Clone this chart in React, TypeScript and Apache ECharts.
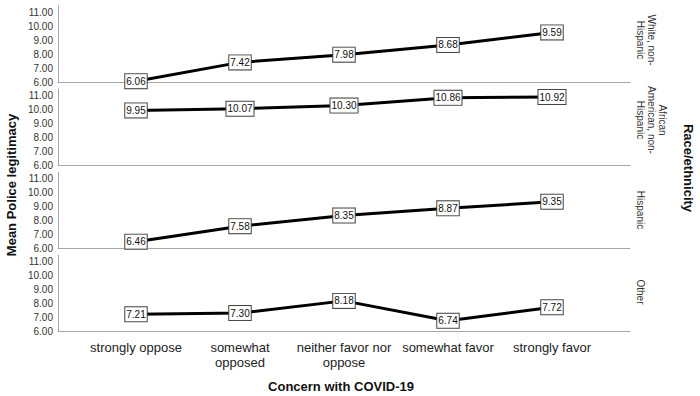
import React, { useEffect, useRef } from "react";
import * as echarts from "echarts";

const categories = [
  "strongly oppose",
  "somewhat\nopposed",
  "neither favor nor\noppose",
  "somewhat favor",
  "strongly favor",
];
const groups = [
  "White, non-\nHispanic",
  "African\nAmerican, non-\nHispanic",
  "Hispanic",
  "Other",
];
const white = [6.06, 7.42, 7.98, 8.68, 9.59];
const african = [9.95, 10.07, 10.3, 10.86, 10.92];
const hispanic = [6.46, 7.58, 8.35, 8.87, 9.35];
const other = [7.21, 7.3, 8.18, 6.74, 7.72];
const seriesValues = [white, african, hispanic, other];
const yTicks = [6, 7, 8, 9, 10, 11];

const FONT = "'Liberation Sans', Arial, sans-serif";

export default function App() {
  const ref = useRef<HTMLDivElement>(null);
  useEffect(() => {
    if (!ref.current) return;
    const chart = echarts.init(ref.current, undefined, { renderer: "svg" });
    const left = 58;
    const width = 572;
    const tops = [6, 89, 172, 255];
    const height = 76;
    const labelY = [40, 120, 210, 292];
    const grids = tops.map((t) => ({ left, top: t, width, height }));
    const xAxes = tops.map((_, i) => ({
      type: "value",
      gridIndex: i,
      min: -0.75,
      max: 4.75,
      interval: 0.25,
      axisLine: { show: true, onZero: false, lineStyle: { color: "#a6a6a6", width: 1 } },
      axisTick: { show: false },
      splitLine: { show: false },
      axisLabel: {
        show: i === 3,
        margin: 9,
        fontFamily: FONT,
        fontSize: 13,
        color: "#222",
        lineHeight: 15,
        showMinLabel: false,
        showMaxLabel: false,
        formatter: (v: number) => {
          const r = Math.round(v);
          if (Math.abs(v - r) > 1e-6 || r < 0 || r >= categories.length) return "";
          return categories[r];
        },
      },
    }));
    const yAxes = tops.map((_, i) => ({
      type: "value",
      gridIndex: i,
      min: 6,
      max: 11.5,
      interval: 1,
      axisLine: { show: true, onZero: false, lineStyle: { color: "#a6a6a6", width: 1 } },
      axisTick: { show: false },
      splitLine: { show: false },
      axisLabel: {
        margin: 5,
        fontFamily: FONT,
        fontSize: 10,
        color: "#333",
        formatter: (v: number) => (yTicks.includes(v) ? v.toFixed(2) : ""),
      },
    }));
    const series = seriesValues.map((vals, i) => ({
      type: "line",
      xAxisIndex: i,
      yAxisIndex: i,
      data: vals.map((v, j) => [j, v]),
      symbol: "circle",
      symbolSize: 2,
      showSymbol: true,
      lineStyle: { color: "#000", width: 3 },
      itemStyle: { color: "#000" },
      label: {
        show: true,
        position: "inside",
        formatter: (p: any) => p.value[1].toFixed(2),
        backgroundColor: "#fff",
        borderColor: "#444",
        borderWidth: 1,
        padding: [2, 1, 2, 1],
        fontFamily: FONT,
        fontSize: 10,
        color: "#111",
      },
    }));
    const graphic: any[] = [
      {
        type: "text",
        x: 11,
        y: 185,
        rotation: Math.PI / 2,
        style: {
          text: "Mean Police legitimacy",
          fontFamily: FONT,
          fontSize: 13,
          fontWeight: "bold",
          fill: "#111",
          align: "center",
          verticalAlign: "middle",
        },
      },
      {
        type: "text",
        x: 341,
        y: 386,
        style: {
          text: "Concern with COVID-19",
          fontFamily: FONT,
          fontSize: 13,
          fontWeight: "bold",
          fill: "#111",
          align: "center",
          verticalAlign: "middle",
        },
      },
      {
        type: "text",
        x: 688,
        y: 168,
        rotation: -Math.PI / 2,
        style: {
          text: "Race/ethnicity",
          fontFamily: FONT,
          fontSize: 13,
          fontWeight: "bold",
          fill: "#111",
          align: "center",
          verticalAlign: "middle",
        },
      },
      ...groups.map((g, i) => ({
        type: "text",
        x: 635,
        y: labelY[i],
        rotation: -Math.PI / 2,
        style: {
          text: g,
          fontFamily: FONT,
          fontSize: 10,
          lineHeight: 11,
          fill: "#333",
          align: "center",
          verticalAlign: "bottom",
        },
      })),
    ];
    chart.setOption({
      animation: false,
      backgroundColor: "#fff",
      grid: grids,
      xAxis: xAxes,
      yAxis: yAxes,
      series,
      graphic,
    });
    return () => chart.dispose();
  }, []);
  return (
    <div
      ref={ref}
      style={{ position: "fixed", left: 0, top: 0, width: 700, height: 396 }}
    />
  );
}
